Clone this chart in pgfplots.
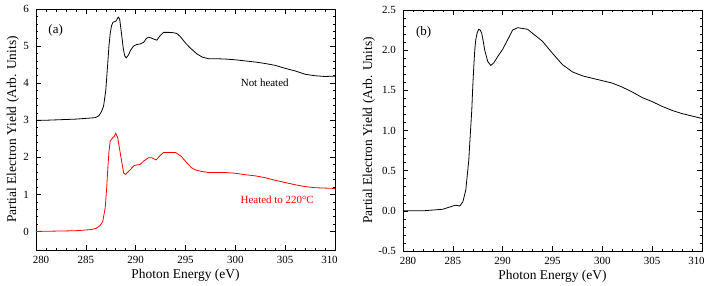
\documentclass[border=0pt]{standalone}
\usepackage{pgfplots}
\pgfplotsset{compat=1.18}
\usepackage{fontspec}
\setmainfont{Liberation Serif}
\begin{document}
\begin{tikzpicture}
\pgfplotsset{
  common/.style={
    width=299bp, height=241bp, scale only axis,
    xmin=280, xmax=310,
    xtick={280,285,...,310},
    xticklabels={\hspace*{10bp}280,285,290,295,300,305,310\hspace*{11bp}},
    minor x tick num=4,
    tick align=inside,
    ticks=both,
    major tick length=5bp, minor tick length=2.5bp,
    every tick/.style={black, line width=0.5pt},
    axis line style={line width=0.6pt},
    tick label style={font=\fontsize{11}{13}\selectfont},
    /pgf/number format/assume math mode=true,
    xlabel={Photon Energy (eV)},
    ylabel={Partial Electron Yield (Arb. Units)},
    xlabel style={font=\fontsize{13.5}{15}\selectfont, at={(axis description cs:0.5,-0.1037)}, anchor=center},
    xticklabel style={inner sep=0pt, anchor=north, yshift=-6bp},
    yticklabel style={inner sep=0pt, anchor=east, xshift=-7bp},
    clip=true,
  }
}
\begin{axis}[common,
  ymin=-0.5, ymax=6,
  ytick={0,1,...,6},
  minor y tick num=4,
  ylabel style={font=\fontsize{13.5}{15}\selectfont, at={(axis description cs:-0.0769,0.5)}, anchor=center},
]
\addplot[black, line width=0.8pt] coordinates {
(280,3.00) (281,3.00) (282,3.01) (283,3.02) (284,3.03) (285,3.05) (285.5,3.06) (285.95,3.07)
(286.3,3.12) (286.55,3.22) (286.78,3.38) (287.0,3.80) (287.18,4.46) (287.32,5.00) (287.45,5.35)
(287.58,5.55) (287.72,5.64) (287.9,5.66) (288.05,5.68) (288.18,5.75) (288.29,5.78) (288.4,5.72)
(288.55,5.40) (288.75,4.95) (288.9,4.74) (289.05,4.68) (289.25,4.75) (289.5,4.89) (289.79,5.00)
(290.1,5.04) (290.46,5.06) (290.8,5.10) (291.05,5.20) (291.3,5.24) (291.55,5.22) (291.8,5.19)
(292.13,5.16) (292.45,5.28) (292.8,5.37) (293.3,5.37) (293.8,5.36) (294.13,5.34) (294.5,5.25)
(295.0,5.08) (295.47,4.95) (296.14,4.79) (296.7,4.70) (297.3,4.66) (298,4.66) (299,4.65)
(300,4.63) (301,4.60) (302,4.57) (303,4.53) (304,4.48) (305,4.40) (306,4.33) (307,4.24)
(308,4.20) (309,4.18) (310,4.19)
};
\addplot[red, line width=0.8pt] coordinates {
(280,0.00) (282,0.01) (284,0.02) (285,0.04) (285.5,0.05) (286.0,0.08) (286.4,0.15) (286.7,0.27)
(286.95,0.65) (287.1,1.20) (287.2,1.68) (287.32,2.15) (287.45,2.44) (287.7,2.53) (287.85,2.56)
(288.0,2.65) (288.2,2.53) (288.5,2.04) (288.8,1.57) (289.0,1.54) (289.5,1.68) (289.85,1.78)
(290.45,1.81) (290.8,1.90) (291.3,1.99) (291.6,1.99) (292.05,1.93) (292.5,2.06) (292.8,2.13)
(293.5,2.13) (294.0,2.13) (294.6,2.02) (295.1,1.86) (295.6,1.72) (296.0,1.66) (296.6,1.62)
(297.3,1.59) (299,1.59) (300,1.57) (301,1.53) (302,1.50) (303,1.45) (304,1.38) (305,1.32)
(306,1.26) (307,1.21) (308,1.18) (309,1.17) (310,1.16)
};
\node[font=\fontsize{13}{15}\selectfont] at (axis cs:281.97,5.43) {(a)};
\node[font=\fontsize{11}{13}\selectfont] at (axis cs:302.95,4.01) {Not heated};
\node[font=\fontsize{11}{13}\selectfont, text=red] at (axis cs:304.2,0.85) {Heated to 220°C};
\end{axis}
\begin{axis}[common, at={(367bp,-1bp)},
  ymin=-0.5, ymax=2.5,
  ytick={-0.5,0,...,2.5},
  minor y tick num=4,
  yticklabel style={/pgf/number format/.cd, fixed, fixed zerofill, precision=1},
  ylabel style={font=\fontsize{13.5}{15}\selectfont, at={(axis description cs:-0.1137,0.5)}, anchor=center},
]
\addplot[black, line width=0.8pt] coordinates {
(280,0.00) (281,0.00) (282,0.00) (283,0.01) (284,0.02) (284.5,0.04) (285,0.06) (285.3,0.07)
(285.7,0.06) (286.0,0.11) (286.3,0.26) (286.6,0.63) (286.75,0.95) (286.9,1.25) (287.0,1.55)
(287.1,1.79) (287.2,2.00) (287.3,2.13) (287.45,2.22) (287.6,2.26) (287.75,2.25) (287.9,2.21)
(288.05,2.11) (288.2,2.00) (288.5,1.86) (288.8,1.81) (289.1,1.84) (289.5,1.92) (290.0,2.01)
(290.5,2.13) (291.0,2.25) (291.5,2.28) (292.0,2.27) (292.5,2.26) (293.0,2.21) (294.0,2.11)
(295.0,1.96) (296.0,1.82) (297.0,1.73) (298.0,1.68) (299.0,1.65) (300.0,1.62) (301.0,1.59)
(302.0,1.54) (303.0,1.48) (304.0,1.41) (305.0,1.36) (306.0,1.30) (307.0,1.25) (308.0,1.21)
(309.0,1.18) (310.0,1.15)
};
\node[font=\fontsize{13}{15}\selectfont] at (axis cs:282.07,2.22) {(b)};
\end{axis}
\pgfresetboundingbox
\path[use as bounding box] (-36bp,-36bp) rectangle (672bp,250bp);
\end{tikzpicture}
\end{document}
